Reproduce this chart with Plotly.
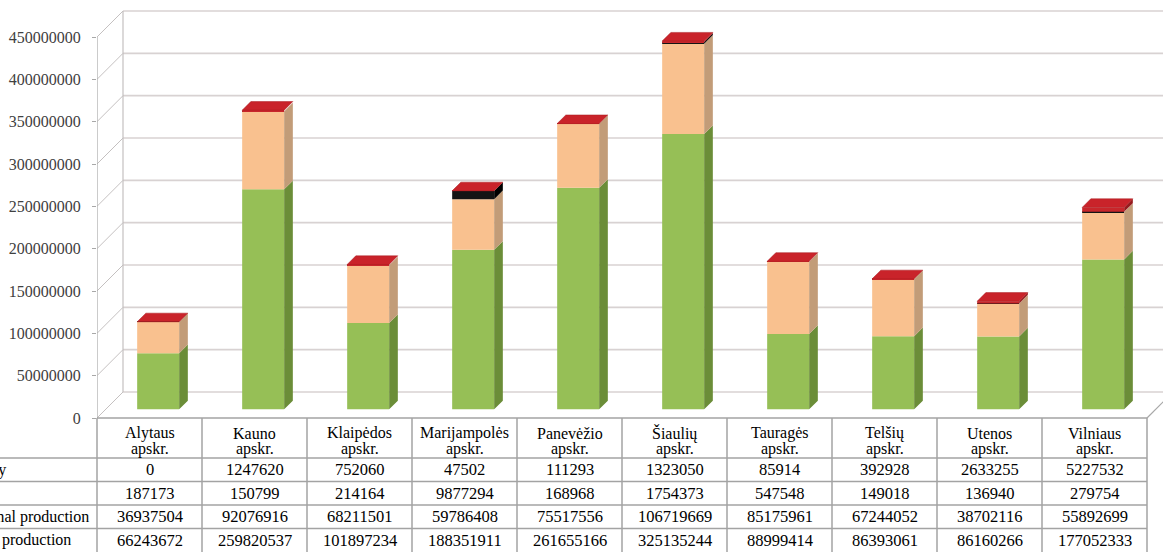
import plotly.graph_objects as go

# ---------------- data ----------------
categories = ["Alytaus apskr.", "Kauno apskr.", "Klaipėdos apskr.", "Marijampolės apskr.",
              "Panevėžio apskr.", "Šiaulių apskr.", "Tauragės apskr.", "Telšių apskr.",
              "Utenos apskr.", "Vilniaus apskr."]
forestry = [0, 1247620, 752060, 47502, 111293, 1323050, 85914, 392928, 2633255, 5227532]
fishery = [187173, 150799, 214164, 9877294, 168968, 1754373, 547548, 149018, 136940, 279754]
animal = [36937504, 92076916, 68211501, 59786408, 75517556, 106719669, 85175961, 67244052, 38702116, 55892699]
crop = [66243672, 259820537, 101897234, 188351911, 261655166, 325135244, 88999414, 86393061, 86160266, 177052333]
row_labels = ["Forestry", "Fishery", "Animal production", "Crop production"]
y_ticks = [0, 50000000, 100000000, 150000000, 200000000, 250000000,
           300000000, 350000000, 400000000, 450000000]

# ---------------- layout constants ----------------
W, H = 1163, 552
L = 97                      # left margin (front axis)
PLOT_W = W - L
CAT_PX = 105                # pixels per category column
Y0_PX = 418                 # pixel row of value 0 on the front plane
PX_PER_UNIT = 381 / 450e6
DEPTH_PX = 26
FONT = "Liberation Serif"

dxu = DEPTH_PX / CAT_PX
dyu = DEPTH_PX / PX_PER_UNIT
n = len(categories)
BAR_W = 0.4

# stacking order bottom -> top
stack = [
    (crop, "#96bf56", "#6b8d38"),
    (animal, "#f9c18f", "#c29c78"),
    (fishery, "#141414", "#000000"),
    (forestry, "#c8262b", "#961b1e"),
]
TOP_COLOR = "#c9232a"

fig = go.Figure()
cum = [0.0] * n
for vals, front, side in stack:
    xs = [i + 0.5 + dxu / 3 for i in range(n)]
    bases = [dyu / 3 + c for c in cum]
    fig.add_trace(go.Bar(x=xs, y=vals, base=bases, width=BAR_W,
                         marker=dict(color=front, line=dict(width=0)),
                         hoverinfo="skip"))
    px_, py_ = [], []
    for i in range(n):
        xr = xs[i] + BAR_W / 2
        b = bases[i]
        t = b + vals[i]
        px_ += [xr, xr + dxu / 3, xr + dxu / 3, xr, xr, None]
        py_ += [b, b + dyu / 3, t + dyu / 3, t, b, None]
    fig.add_trace(go.Scatter(x=px_, y=py_, mode="lines", fill="toself",
                             fillcolor=side, line=dict(width=0, color=side),
                             hoverinfo="skip"))
    cum = [c + v for c, v in zip(cum, vals)]

# top faces
tx, ty = [], []
for i in range(n):
    xl = i + 0.5 + dxu / 3 - BAR_W / 2
    xr = xl + BAR_W
    t = dyu / 3 + cum[i]
    tx += [xl, xl + dxu / 3, xr + dxu / 3, xr, xl, None]
    ty += [t, t + dyu / 3, t + dyu / 3, t, t, None]
fig.add_trace(go.Scatter(x=tx, y=ty, mode="lines", fill="toself",
                         fillcolor=TOP_COLOR, line=dict(width=0.5, color="#a81c20"),
                         hoverinfo="skip"))

shapes = []
GRID = "#d8d2d2"
WALL = "#c4c0c0"
for v in y_ticks:
    shapes.append(dict(type="line", xref="x", yref="y", x0=dxu, x1=n + dxu,
                       y0=v + dyu, y1=v + dyu, line=dict(color=GRID, width=1.6), layer="below"))
    shapes.append(dict(type="line", xref="x", yref="y", x0=0, x1=dxu,
                       y0=v, y1=v + dyu, line=dict(color=WALL, width=1), layer="below"))
shapes.append(dict(type="line", xref="x", yref="y", x0=dxu, x1=dxu,
                   y0=dyu, y1=y_ticks[-1] + dyu, line=dict(color=WALL, width=1.2), layer="below"))
shapes.append(dict(type="line", xref="x", yref="y", x0=0, x1=0,
                   y0=0, y1=y_ticks[-1], line=dict(color="#a8a8a8", width=1.2), layer="below"))
shapes.append(dict(type="line", xref="x", yref="y", x0=n, x1=n + dxu,
                   y0=0, y1=dyu, line=dict(color="#a8a8a8", width=1.2), layer="below"))

# ---------------- data table ----------------
def pxx(px):
    return (px - L) / PLOT_W

def pxy(p):
    return 1 - p / H

def colx(i):
    return i * CAT_PX / PLOT_W

TBL = "#a3a3a3"
HEAD_TOP, HEAD_BOT, ROW_H = 418, 458, 23.5
row_lines = [HEAD_BOT + k * ROW_H for k in range(len(row_labels))]
shapes.append(dict(type="line", xref="paper", yref="paper", x0=colx(0), x1=colx(n),
                   y0=pxy(HEAD_TOP), y1=pxy(HEAD_TOP), line=dict(color=TBL, width=1.5)))
for p in row_lines:
    shapes.append(dict(type="line", xref="paper", yref="paper", x0=pxx(-5), x1=colx(n),
                       y0=pxy(p), y1=pxy(p), line=dict(color=TBL, width=1.5)))
for i in range(n + 1):
    shapes.append(dict(type="line", xref="paper", yref="paper", x0=colx(i), x1=colx(i),
                       y0=pxy(HEAD_TOP), y1=pxy(H + 5), line=dict(color=TBL, width=1.5)))

annotations = []
hfont = dict(family=FONT, size=16, color="#000000")
tfont = dict(family=FONT, size=16.5, color="#000000")
for i, cat in enumerate(categories):
    name, suffix = cat.split(" ")
    xc = colx(i + 0.5)
    annotations.append(dict(xref="paper", yref="paper", x=xc, y=pxy(433), text=name,
                            showarrow=False, font=hfont, xanchor="center", yanchor="middle"))
    annotations.append(dict(xref="paper", yref="paper", x=xc, y=pxy(449), text=suffix,
                            showarrow=False, font=hfont, xanchor="center", yanchor="middle"))

table_rows = [forestry, fishery, animal, crop]
label_ends = [8, -3, 91, 73]
for r, vals in enumerate(table_rows):
    yc = pxy(HEAD_BOT + (r + 0.5) * ROW_H)
    for i, v in enumerate(vals):
        annotations.append(dict(xref="paper", yref="paper", x=colx(i + 0.5), y=yc,
                                text=str(v), showarrow=False, font=tfont,
                                xanchor="center", yanchor="middle"))
    annotations.append(dict(xref="paper", yref="paper", x=pxx(label_ends[r]), y=yc,
                            text=row_labels[r], showarrow=False, font=hfont,
                            xanchor="right", yanchor="middle"))

fig.update_layout(
    width=W, height=H,
    margin=dict(l=L, r=0, t=0, b=0, autoexpand=False),
    paper_bgcolor="white", plot_bgcolor="white",
    showlegend=False, barmode="overlay",
    font=dict(family=FONT),
    xaxis=dict(visible=False, range=[0, PLOT_W / CAT_PX], fixedrange=True),
    yaxis=dict(range=[(Y0_PX - H) / PX_PER_UNIT, Y0_PX / PX_PER_UNIT],
               tickvals=y_ticks, tickformat="d", showgrid=False, zeroline=False,
               showline=False, ticks="outside", ticklen=4, tickcolor="#a8a8a8",
               ticklabelstandoff=8,
               tickfont=dict(family=FONT, size=16, color="#404040"), fixedrange=True),
    shapes=shapes, annotations=annotations,
)

fig.write_html("out.html", config={"displayModeBar": False},
               post_script="document.body.style.margin='0';document.body.style.overflow='hidden';")
